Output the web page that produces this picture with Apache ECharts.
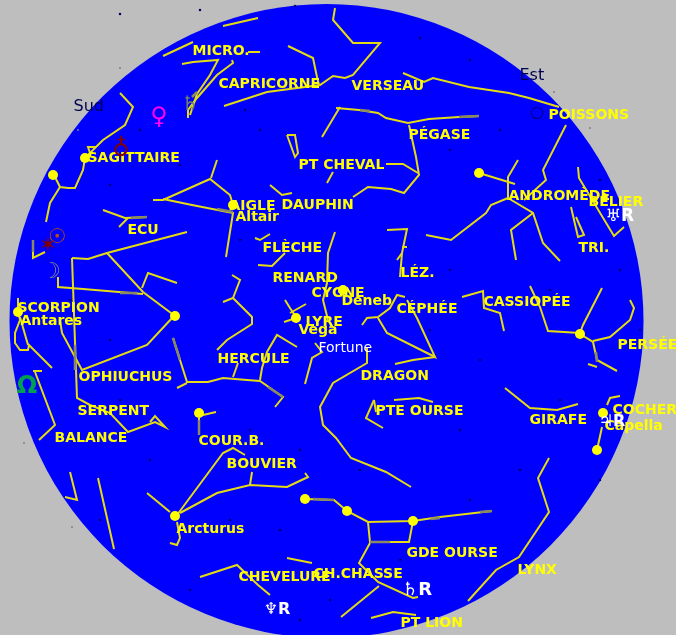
<!DOCTYPE html>
<html><head><meta charset="utf-8">
<style>html,body{margin:0;padding:0;background:#bebebe;overflow:hidden}#c{width:676px;height:635px}</style>
<script src="https://cdn.jsdelivr.net/npm/echarts@6/dist/echarts.min.js"></script>
</head><body><div id="c"></div>
<script>
const skyDisc=[[326.5,321]];
const micro=[[[182,64],[193,62],[218,60],[210,75],[197,94],[190,115]],[[232,60],[233,63],[217,75],[197,98],[188,110],[188,118]],[[248,52],[260,52]],[[223,26],[258,18]],[[163,56],[193,42]]];
const capricorne=[[[224,106],[267,92],[320,85],[333,76],[345,78],[353,75],[380,43],[353,43],[340,28],[333,20],[335,8]],[[288,46],[313,58],[317,77],[319,85]]];
const verseau=[[[403,73],[424,82],[433,78],[469,87],[509,93],[529,98],[559,107]]];
const pegase=[[[336,108],[359,110],[378,113],[386,118],[408,123],[429,119],[459,117],[479,116]],[[340,107],[322,137]],[[409,125],[416,157],[419,175],[404,193],[391,189],[368,187],[353,197]]];
const ptCheval=[[[386,164],[403,164],[418,173]],[[327,183],[333,172]],[[287,135],[295,135],[298,153],[295,157],[287,135]]];
const sagittaire=[[[120,93],[133,107],[125,125],[103,140],[90,153],[88,147],[96,147]],[[90,153],[85,158],[83,170],[75,188],[68,188],[60,187],[54,175]],[[60,187],[50,203],[46,222]]];
const ecu=[[[103,210],[125,218],[147,217]],[[119,227],[128,218]]];
const aigle=[[[153,200],[163,200],[210,179],[230,195],[233,205]],[[217,160],[211,178]],[[163,199],[192,205],[233,213],[226,257]]];
const dauphin=[[[270,185],[282,195],[292,193]]];
const fleche=[[[255,238],[260,240],[270,234]],[[258,265],[272,266],[285,253]]];
const cygne=[[[335,232],[328,253],[327,283],[323,300],[328,320]]];
const lyre=[[[285,300],[290,308],[296,317]],[[306,304],[290,313]],[[284,322],[296,318]]];
const hercule=[[[173,338],[187,382],[208,382],[223,378],[247,380],[260,381],[283,397],[275,407]],[[177,388],[187,383]],[[233,377],[238,363]],[[260,380],[262,368],[267,352],[277,335],[297,347]],[[232,275],[240,280],[233,298],[223,302]],[[233,298],[252,317],[252,324],[227,340],[217,350]]];
const fortune=[[[305,384],[312,358],[322,352],[315,343]]];
const dragon=[[[367,347],[367,363],[333,383],[320,407],[323,425],[336,438],[351,458],[386,472],[411,487]]];
const cephee=[[[362,325],[367,318],[378,317],[390,308],[397,295],[405,297]],[[378,318],[387,333],[435,357],[417,318],[407,300]],[[395,364],[413,360],[435,357]]];
const lezard=[[[387,230],[407,229],[402,253],[397,260]],[[402,247],[407,247]],[[402,253],[400,277]]];
const cassiopee=[[[462,297],[483,291],[484,308],[500,313],[504,331]],[[530,286],[540,307],[548,331],[580,333]],[[602,288],[583,325],[580,333]]];
const persee=[[[580,334],[593,342],[597,360],[617,371]],[[588,364],[597,367]],[[593,341],[610,337],[630,320],[634,308],[630,300]]];
const girafe=[[[505,388],[530,408],[557,410],[578,404]]];
const cocher=[[[607,405],[610,398],[620,396]],[[602,427],[597,450]]];
const lynx=[[[549,458],[538,478],[549,512],[519,557],[496,570],[468,601]]];
const grandeOurse=[[[305,499],[334,500],[347,511],[368,522],[413,521],[440,517],[492,511]],[[368,522],[370,542],[409,542],[413,521]],[[370,543],[359,563],[378,582],[413,598],[418,597]],[[379,586],[341,617]]];
const ptLion=[[[371,618],[393,612],[416,615]]];
const bouvier=[[[147,493],[170,512]],[[177,515],[223,453],[233,448],[245,455]],[[180,513],[217,493],[250,485],[287,487],[308,477],[305,473]],[[250,485],[252,472]],[[177,522],[180,538],[177,545],[170,543]]];
const couronne=[[[199,418],[199,435]],[[203,415],[216,412]]];
const balance=[[[33,371],[42,371]],[[35,372],[55,425],[39,440]]];
const serpent=[[[72,258],[77,398],[90,405],[110,413],[128,432],[155,422],[165,427],[155,416],[150,422]]];
const ophiuchus=[[[72,258],[88,259],[107,253],[187,232]],[[107,253],[143,292],[175,316]],[[58,277],[58,287],[83,289],[143,294]],[[142,288],[148,273],[177,283]],[[173,317],[147,345],[82,370],[62,333],[60,320]]];
const scorpion=[[[33,240],[33,258],[45,252]],[[18,298],[18,310],[20,320],[15,333],[15,343],[20,350],[28,350],[29,345],[52,368]],[[20,317],[28,345]]];
const sudLines=[[[70,472],[77,500],[65,497]],[[98,478],[114,549]]];
const chevelure=[[[200,577],[237,565],[258,585],[270,595]],[[287,558],[312,563]]];
const andromede=[[[479,173],[515,184]],[[518,160],[508,177],[508,200]],[[426,235],[451,240],[486,213],[491,205],[508,198]],[[508,198],[533,213],[543,243],[560,261]],[[533,213],[511,230],[516,260]]];
const poissons=[[[566,125],[543,170],[546,180],[524,200]]];
const belier=[[[578,167],[579,178],[614,236],[624,227]]];
const triangle=[[[571,207],[578,237],[584,235],[576,217]]];
const peteOurse=[[[374,400],[366,418],[383,428]],[[374,400],[376,412]],[[394,400],[419,398],[433,402]]];
const grayMarks=[[[131,218],[147,217]],[[217,209],[233,212]],[[360,110],[370,111]],[[459,117],[479,116]],[[75,345],[75,370]],[[199,420],[199,435]],[[313,499],[334,500]],[[370,542],[390,542]],[[431,519],[440,518]],[[480,512],[492,511]],[[120,293],[137,293]],[[33,240],[33,252]],[[173,338],[180,360]],[[268,387],[283,397]],[[596,352],[597,362]],[[192,97],[197,92]]];
const stars=[[53,175],[233,205],[296,318],[343,290],[175,316],[18,312],[479,173],[580,334],[603,413],[597,450],[199,413],[175,516],[305,499],[347,511],[413,521],[85,158]];
const yellowLabels=[["MICRO.",192,51],["CAPRICORNE",218,84],["VERSEAU",351,86],["POISSONS",548,115],["PÉGASE",408,135],["PT CHEVAL",298,165],["SAGITTAIRE",87,158],["ANDROMÈDE",508,196],["BÉLIER",588,202],["AIGLE",229,206],["DAUPHIN",281,205],["Altair",235,217],["ECU",127,230],["FLÈCHE",262,248],["TRI.",578,248],["LÉZ.",400,273],["RENARD",272,278],["CYGNE",311,293],["Deneb",341,301],["CASSIOPÉE",483,302],["CÉPHÉE",396,309],["SCORPION",17,308],["Antares",20,321],["LYRE",305,322],["Vega",298,330],["PERSÉE",617,345],["HERCULE",217,359],["DRAGON",360,376],["OPHIUCHUS",78,377],["SERPENT",77,411],["PTE OURSE",375,411],["COCHER",612,410],["GIRAFE",529,420],["Capella",604,426],["BALANCE",54,438],["COUR.B.",198,441],["BOUVIER",226,464],["Arcturus",176,529],["GDE OURSE",406,553],["LYNX",517,570],["CHEVELURE",238,577],["CH.CHASSE",313,574],["PT LION",400,623]];
const horizonLabels=[["Sud",73,107],["Est",519,76]];
const whiteLabels=[["Fortune",318,348]];
const glyphs=[["♀",159,118,"#ff00ff",24],["♁",121,150,"#800000",24],["☉",57,238,"#c05000",20],["✶",48,246,"#800000",22],["☽",51,272,"#808080",22],["Ω",27,387,"#00a050",24],["♄",190,105,"#708070",20],["○",537,113,"#000080",16],["♅R",620,217,"#ffffff",17],["♆R",277,610,"#ffffff",16],["♄R",417,590,"#ffffff",18],["♃R",612,422,"#ffffff",16]];
const specks=[[120,14],[295,6],[200,10],[420,38],[470,60],[245,110],[140,130],[180,165],[110,185],[260,130],[450,150],[500,130],[600,180],[550,290],[620,270],[450,270],[430,330],[480,360],[300,250],[240,240],[70,300],[110,340],[120,400],[150,460],[250,430],[300,450],[460,430],[520,470],[470,500],[560,400],[600,480],[280,530],[360,470],[230,520],[400,560],[330,600],[300,620],[640,330],[100,520],[190,590]];
const outerSpecks=[[120,68],[24,443],[72,527],[554,92],[590,128],[78,130]];

const groups=[micro,capricorne,verseau,pegase,ptCheval,sagittaire,ecu,aigle,dauphin,fleche,cygne,lyre,hercule,fortune,dragon,cephee,lezard,cassiopee,persee,girafe,cocher,lynx,grandeOurse,ptLion,bouvier,couronne,balance,serpent,ophiuchus,scorpion,sudLines,chevelure,andromede,poissons,belier,triangle,peteOurse];
const linesData=groups.flat().map(c=>({coords:c}));
const textSeries=(rows,color,size,weight,z)=>({type:'scatter',symbolSize:1,z:z,silent:true,
  itemStyle:{color:'rgba(0,0,0,0)',opacity:1},data:rows.map(r=>[r[1],r[2],r[0]]),
  label:{show:true,position:'right',distance:0,color:color,opacity:1,fontFamily:'DejaVu Sans',fontSize:size,fontWeight:weight,formatter:p=>p.data[2]}});
const chart=echarts.init(document.getElementById('c'),null,{renderer:'canvas'});
chart.setOption({animation:false,backgroundColor:'#bebebe',
 grid:{left:0,right:0,top:0,bottom:0},
 xAxis:{type:'value',min:0,max:676,show:false},
 yAxis:{type:'value',min:0,max:635,inverse:true,show:false},
 series:[
  {type:'scatter',silent:true,z:1,data:skyDisc,symbol:'circle',symbolSize:634,itemStyle:{color:'#0000ff',opacity:1}},
  {type:'scatter',silent:true,z:2,data:specks,symbolSize:2.5,itemStyle:{color:'#000070',opacity:1}},
  {type:'scatter',silent:true,z:2,data:outerSpecks,symbolSize:2,itemStyle:{color:'#808080',opacity:1}},
  {type:'lines',coordinateSystem:'cartesian2d',polyline:true,z:3,silent:true,data:linesData,lineStyle:{color:'#e4dc10',width:2,opacity:1}},
  {type:'lines',coordinateSystem:'cartesian2d',polyline:true,z:4,silent:true,data:grayMarks.map(c=>({coords:c})),lineStyle:{color:'#8a8a60',width:2.5,opacity:1}},
  {type:'scatter',silent:true,z:5,data:stars,symbolSize:10,itemStyle:{color:'#ffff00',opacity:1}},
  textSeries(yellowLabels,'#ffff00',14,'bold',6),
  textSeries(horizonLabels,'#000050',16,'normal',6),
  textSeries(whiteLabels,'#ffffff',14,'normal',6),
  {type:'scatter',symbolSize:1,z:7,silent:true,itemStyle:{color:'rgba(0,0,0,0)',opacity:1},
   data:glyphs.map(g=>({value:[g[1],g[2]],label:{show:true,position:'inside',formatter:g[0],color:g[3],opacity:1,fontSize:g[4],fontFamily:'DejaVu Sans',fontWeight:'bold'}}))}
 ]});
</script></body></html>
